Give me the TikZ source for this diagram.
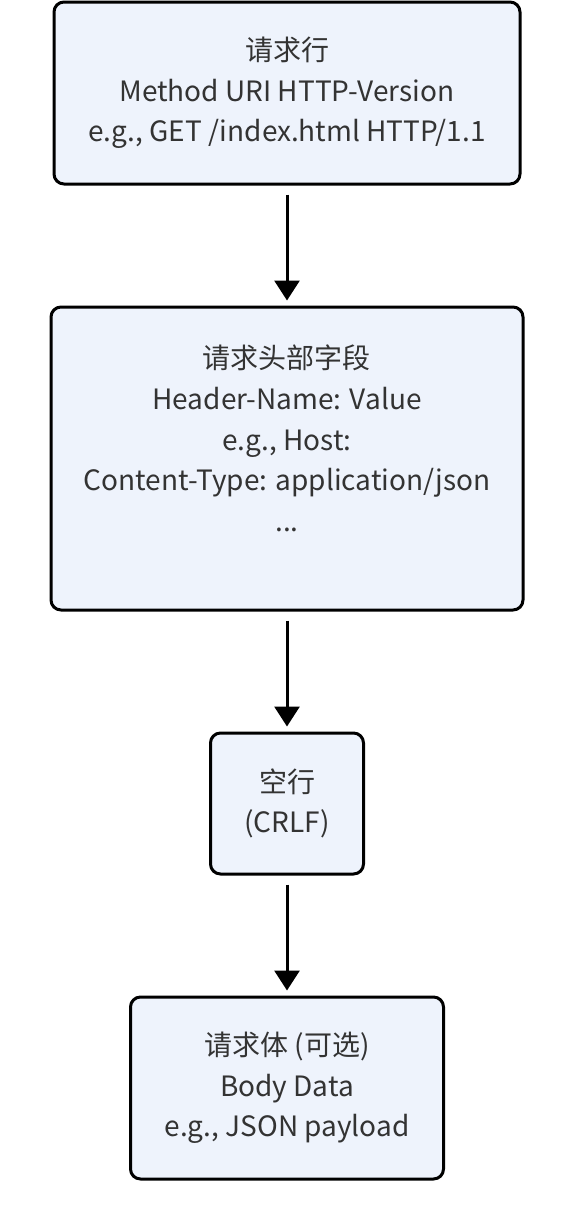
\documentclass[tikz,border=0pt]{standalone}
\usepackage{fontspec}
\setmainfont{Noto Sans CJK SC}
\usepackage{xcolor}
\usetikzlibrary{arrows.meta,positioning}
\definecolor{boxfill}{HTML}{EEF3FC}
\definecolor{boxtext}{HTML}{333333}

\begin{document}
\begin{tikzpicture}[node distance=60pt, thick]
    \tikzset{
        part/.style={draw=black, fill=boxfill, line width=1.5pt, rounded corners=5pt,
            align=center, text=boxtext, inner sep=0pt,
            font=\fontsize{14pt}{20.3pt}\selectfont},
        flow/.style={-{Triangle[length=10pt,width=12.5pt]}, line width=1.5pt,
            shorten <=4.5pt, shorten >=2.5pt}
    }
    \useasboundingbox (0,0) rectangle (287.5pt,-616pt);

    % Parts of the request
    \node[part, minimum width=233pt, minimum height=91pt] (line) at (143.5pt,-46.5pt)
        {请求行\\Method URI HTTP-Version\\e.g., GET /index.html HTTP/1.1};
    \node[part, minimum width=236pt, minimum height=151.5pt, below=of line] (head)
        {请求头部字段\\Header-Name: Value\\e.g., Host:\\Content-Type: application/json\\...\\\mbox{}};
    \node[part, minimum width=76.5pt, minimum height=70.5pt, below=of head] (blank)
        {空行\\(CRLF)};
    \node[part, minimum width=156.5pt, minimum height=91pt, below=of blank] (body)
        {请求体 (可选)\\Body Data\\e.g., JSON payload};

    % Order
    \draw[flow] (line) -- (head);
    \draw[flow] (head) -- (blank);
    \draw[flow] (blank) -- (body);
\end{tikzpicture}
\end{document}
